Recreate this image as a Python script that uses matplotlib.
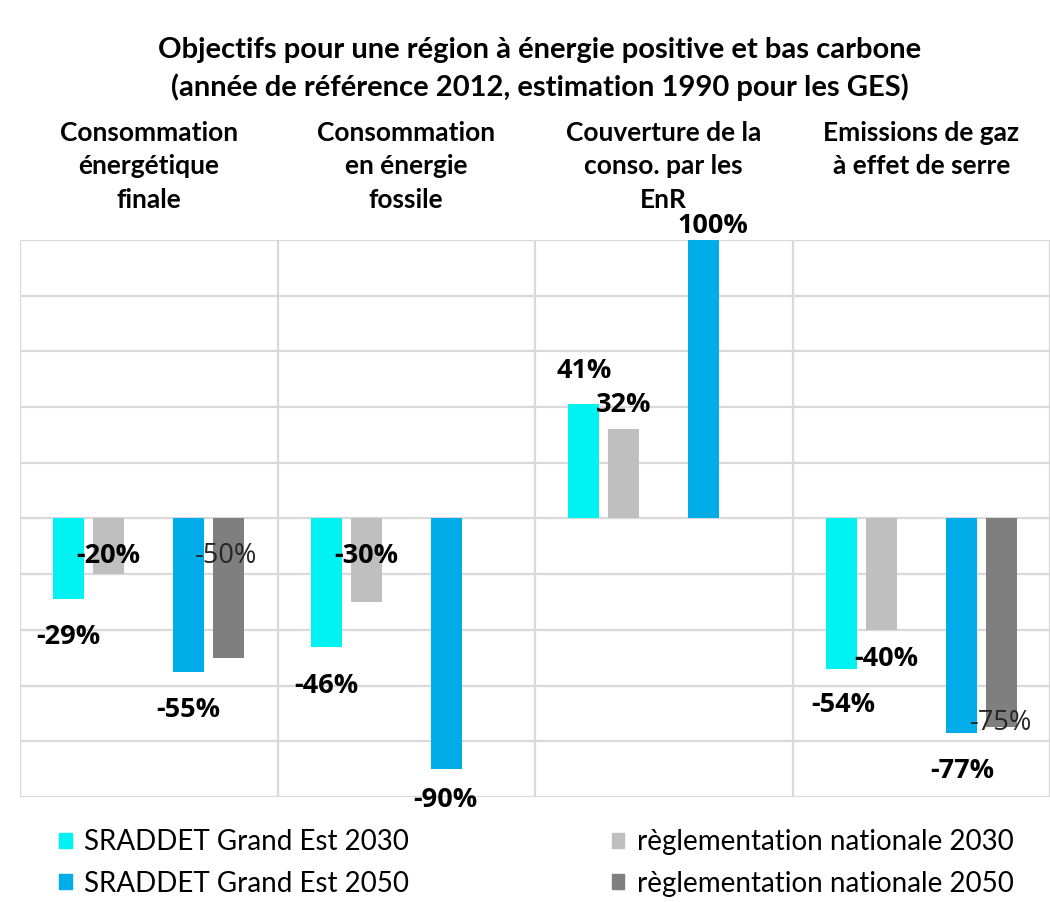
import numpy as np
import matplotlib
matplotlib.use("Agg")
import matplotlib.pyplot as plt
from matplotlib.patches import Patch

# ---- data ----
categories = ["Consommation\nénergétique\nfinale",
              "Consommation\nen énergie\nfossile",
              "Couverture de la\nconso. par les\nEnR",
              "Emissions de gaz\nà effet de serre"]
series_names = ["SRADDET Grand Est 2030", "SRADDET Grand Est 2050",
                "règlementation nationale 2030", "règlementation nationale 2050"]
sr2030 = [-29, -46, 41, -54]
nat2030 = [-20, -30, 32, -40]
sr2050 = [-55, -90, 100, -77]
nat2050 = [-50, np.nan, np.nan, -75]

# label positions (x in category units, y in %) as laid out in the original
lab_sr2030 = [(-0.314, -42.4), (0.688, -60.0), (1.690, 53.1), (2.696, -67.1)]
lab_nat2030 = [(-0.158, -13.6), (0.844, -13.6), (1.846, 40.6), (2.863, -50.6)]
lab_sr2050 = [(0.152, -68.9), (1.150, -100.9), (2.191, 105.2), (3.158, -90.5)]
lab_nat2050 = [(0.300, -13.6), None, None, (3.310, -73.6)]

colors = {"sr2030": "#00F2F2", "nat2030": "#BFBFBF",
          "sr2050": "#00ADE9", "nat2050": "#7F7F7F"}

W, H = 1050, 902
fig = plt.figure(figsize=(W / 100, H / 100), dpi=100)
ax = fig.add_axes([20 / W, 1 - 797 / H, 1030 / W, (797 - 240) / H])

x = np.arange(len(categories))
bw = 0.12
off = 0.155
ax.bar(x - 2 * off, sr2030, bw, color=colors["sr2030"], zorder=3)
ax.bar(x - off, nat2030, bw, color=colors["nat2030"], zorder=3)
ax.bar(x + off, sr2050, bw, color=colors["sr2050"], zorder=3)
ax.bar(x + 2 * off, nat2050, bw, color=colors["nat2050"], zorder=3)

ax.set_xlim(-0.5, 3.5)
ax.set_ylim(-100, 100)
ax.set_yticks(np.arange(-100, 101, 20))
ax.set_xticks(np.arange(-0.5, 3.6, 1.0))
ax.grid(True, color="#D9D9D9", linewidth=1.6, zorder=0)
ax.tick_params(left=False, bottom=False, labelleft=False, labelbottom=False)
for s in ax.spines.values():
    s.set_visible(False)
ax.set_axisbelow(True)

numfont = dict(family="Open Sans", fontsize=19.5)
def put(vals, poss, bold=True):
    for v, p in zip(vals, poss):
        if p is None or np.isnan(v):
            continue
        ax.text(p[0], p[1], f"{int(v)}%", ha="center", va="center",
                fontweight="bold" if bold else "normal",
                color="black" if bold else "#262626", zorder=5,
                clip_on=False, **numfont)

put(sr2030, lab_sr2030)
put(nat2030, lab_nat2030)
put(sr2050, lab_sr2050)
put(nat2050, lab_nat2050, bold=False)

# title
fig.text(540 / W, 1 - 69 / H,
         "Objectifs pour une région à énergie positive et bas carbone\n"
         "(année de référence 2012, estimation 1990 pour les GES)",
         ha="center", va="center", fontsize=21, fontweight="bold",
         family="Lato", linespacing=1.45)

# category headers
for i, c in enumerate(categories):
    fig.text((20 + 257.5 * (i + 0.5)) / W, 1 - 121 / H, c, ha="center", va="top",
             fontsize=19, fontweight="bold", family="Lato", linespacing=1.47)

handles = [Patch(color=colors["sr2030"]), Patch(color=colors["sr2050"]),
           Patch(color=colors["nat2030"]), Patch(color=colors["nat2050"])]
leg = fig.legend(handles, series_names, ncol=2, loc="center left",
                 bbox_to_anchor=(34 / W, 1 - 863 / H), frameon=False,
                 prop=dict(family="Lato", size=20), handlelength=0.45,
                 handleheight=0.45, handletextpad=0.45, columnspacing=7.3,
                 labelspacing=0.55)

fig.savefig("out.png", dpi=100)
